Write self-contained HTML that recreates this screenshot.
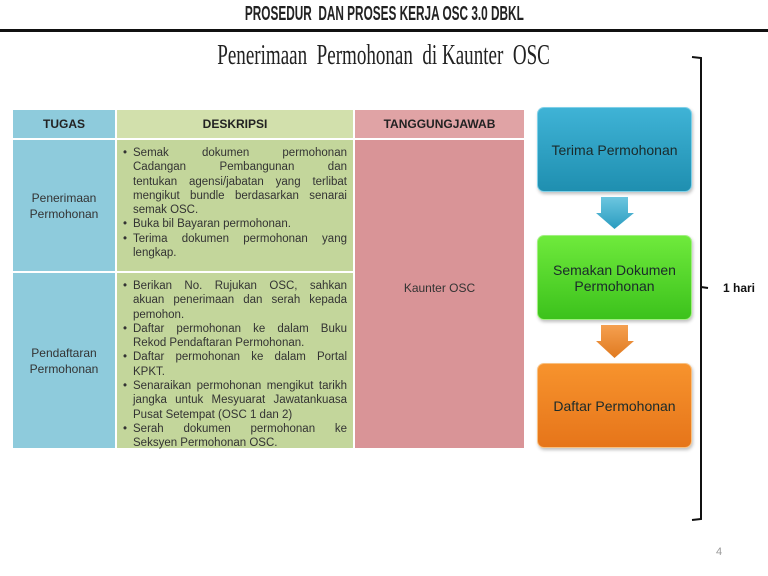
<!DOCTYPE html>
<html><head><meta charset="utf-8"><style>
*{margin:0;padding:0;box-sizing:border-box}
body{width:768px;height:576px;background:#fff;position:relative;overflow:hidden;font-family:"Liberation Sans",Arial,sans-serif;color:#222}
.abs{position:absolute}
.hdr{left:0;width:768px;top:3px;text-align:center}
.hdr span{display:inline-block;font:bold 20px "Liberation Sans",sans-serif;transform:scaleX(.59);white-space:nowrap;letter-spacing:0}
.line{left:0;top:29px;width:768px;height:3px;background:#111}
.ttl{left:0;width:768px;top:40px;text-align:center}
.ttl span{display:inline-block;font:28px "Liberation Serif",serif;transform:scaleX(.68);white-space:nowrap;margin-left:-1px}
.cell{position:absolute}
.th{font-weight:bold;font-size:12px;text-align:center;line-height:28px;color:#222}
.d{font-size:11.5px;line-height:14.3px;color:#333}
.d .b{position:relative;padding-left:13px}
.d .b:before{content:"•";position:absolute;left:3px}
.j{display:block;text-align:justify;text-align-last:justify;white-space:nowrap}
.n{display:block;white-space:nowrap}
.box{position:absolute;left:537px;width:155px;height:85px;border-radius:7px;display:flex;align-items:center;justify-content:center;text-align:center;font-size:14px;line-height:16px;color:#1a2a2a;box-shadow:1px 2px 3px rgba(0,0,0,.25)}
</style></head><body>
<div class="abs hdr"><span>PROSEDUR&nbsp; DAN PROSES KERJA OSC 3.0 DBKL</span></div>
<div class="abs line"></div>
<div class="abs ttl"><span>Penerimaan&nbsp; Permohonan&nbsp; di Kaunter&nbsp; OSC</span></div>

<div class="cell th" style="left:13px;top:110px;width:102px;height:28px;background:#8ecbdc">TUGAS</div>
<div class="cell th" style="left:117px;top:110px;width:236px;height:28px;background:#d2e0ac">DESKRIPSI</div>
<div class="cell th" style="left:355px;top:110px;width:169px;height:28px;background:#e0a3a5">TANGGUNGJAWAB</div>

<div class="cell" style="left:13px;top:140px;width:102px;height:131px;background:#8ecbdc"></div>
<div class="cell" style="left:13px;top:273px;width:102px;height:175px;background:#8ecbdc"></div>
<div class="cell" style="left:117px;top:140px;width:236px;height:131px;background:#c3d69b"></div>
<div class="cell" style="left:117px;top:273px;width:236px;height:175px;background:#c3d69b"></div>
<div class="cell" style="left:355px;top:140px;width:169px;height:308px;background:#d99497"></div>

<div class="cell d" style="left:13px;top:190px;width:102px;text-align:center;line-height:16px;font-size:12px">Penerimaan<br>Permohonan</div>
<div class="cell d" style="left:13px;top:345px;width:102px;text-align:center;line-height:16px;font-size:12px">Pendaftaran<br>Permohonan</div>
<div class="cell d" style="left:355px;top:281px;width:169px;text-align:center;font-size:12px">Kaunter OSC</div>

<div class="cell d" style="left:120px;top:146px;width:227px">
<div class="b"><span class="j">Semak dokumen permohonan</span><span class="j">Cadangan Pembangunan dan</span><span class="j">tentukan agensi/jabatan yang terlibat</span><span class="j">mengikut bundle berdasarkan senarai</span><span class="n">semak OSC.</span></div>
<div class="b"><span class="n">Buka bil Bayaran permohonan.</span></div>
<div class="b"><span class="j">Terima dokumen permohonan yang</span><span class="n">lengkap.</span></div>
</div>
<div class="cell d" style="left:120px;top:279px;width:227px">
<div class="b"><span class="j">Berikan No. Rujukan OSC, sahkan</span><span class="j">akuan penerimaan dan serah kepada</span><span class="n">pemohon.</span></div>
<div class="b"><span class="j">Daftar permohonan ke dalam Buku</span><span class="n">Rekod Pendaftaran Permohonan.</span></div>
<div class="b"><span class="j">Daftar permohonan ke dalam Portal</span><span class="n">KPKT.</span></div>
<div class="b"><span class="j">Senaraikan permohonan mengikut tarikh</span><span class="j">jangka untuk Mesyuarat Jawatankuasa</span><span class="n">Pusat Setempat (OSC 1 dan 2)</span></div>
<div class="b"><span class="j">Serah dokumen permohonan ke</span><span class="n">Seksyen Permohonan OSC.</span></div>
</div>

<div class="box" style="top:107px;background:linear-gradient(#3fb3d6,#1f8fb0);border:1px solid #7fd0e8">Terima Permohonan</div>
<div class="box" style="top:235px;background:linear-gradient(#6fea3c,#3cc21c);border:1px solid #a0f080">Semakan Dokumen<br>Permohonan</div>
<div class="box" style="top:363px;background:linear-gradient(#f7932d,#e6751a);border:1px solid #f8c080">Daftar Permohonan</div>

<svg class="abs" style="left:0;top:0" width="768" height="576">
<defs>
<linearGradient id="ga" x1="0" y1="0" x2="0" y2="1"><stop offset="0" stop-color="#6cc6e0"/><stop offset="1" stop-color="#2a9cc0"/></linearGradient>
<linearGradient id="go" x1="0" y1="0" x2="0" y2="1"><stop offset="0" stop-color="#f5a050"/><stop offset="1" stop-color="#e07a20"/></linearGradient>
</defs>
<polygon points="601,197 628,197 628,213 634,213 614.5,229 596,213 601,213" fill="url(#ga)"/>
<polygon points="601,325 628,325 628,341 634,341 614.5,358 596,341 601,341" fill="url(#go)"/>
<path d="M692,57 L701,58 L701,519 L692,520" fill="none" stroke="#111" stroke-width="2"/>
<line x1="701" y1="287" x2="708" y2="288" stroke="#111" stroke-width="2"/>
<text x="723" y="292" font-family="Liberation Sans,sans-serif" font-size="12" font-weight="bold" fill="#111">1 hari</text>
<text x="716" y="555" font-family="Liberation Sans,sans-serif" font-size="11" fill="#999">4</text>
</svg>
</body></html>
